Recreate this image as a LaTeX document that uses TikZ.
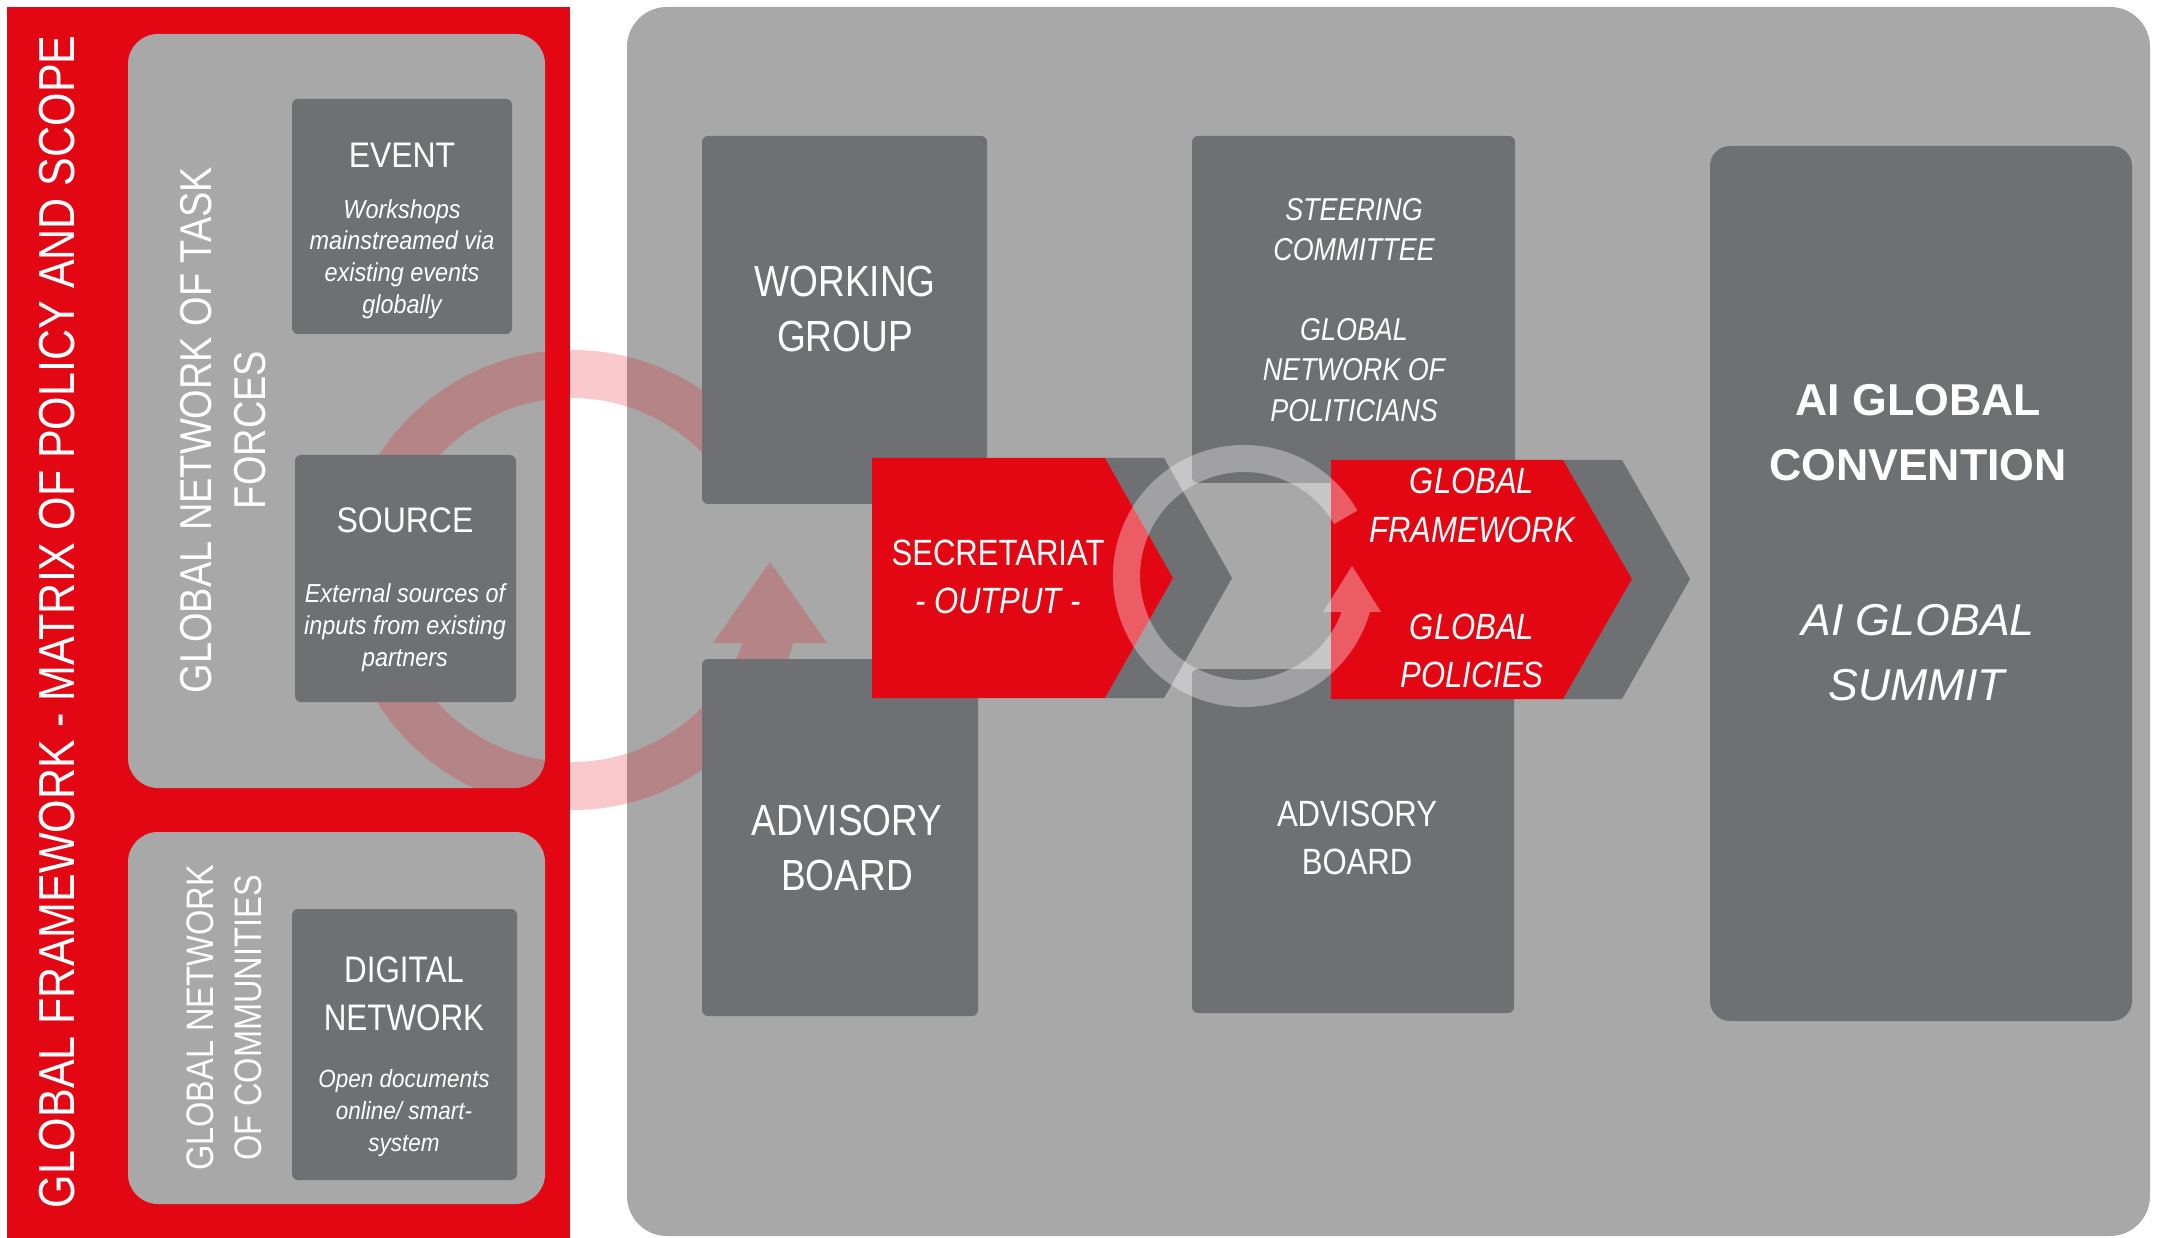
\documentclass[tikz,border=0pt]{standalone}
\usepackage{fontspec}
\setmainfont{Liberation Sans}
\newfontfamily\narrowfont{Liberation Sans}[FakeStretch=0.85]
\newfontfamily\boxfont{Liberation Sans}[FakeStretch=0.9]
\newcommand{\gfsize}[2]{\fontsize{#1}{#2}\selectfont}
\definecolor{gfred}{HTML}{E30613}
\definecolor{panelgray}{HTML}{A8A8A8}
\definecolor{boxgray}{HTML}{6F7074}
\tikzset{
  panel/.style={fill=panelgray, rounded corners=3mm},
  darkbox/.style={fill=boxgray, rounded corners=0.6mm},
  whitetext/.style={text=white, inner sep=0pt, align=center}
}
\begin{document}
\begin{tikzpicture}[x=0.1mm,y=-0.1mm]
        \useasboundingbox (0,0) rectangle (2158,1238);
        \fill[white] (0,0) rectangle (2158,1238);
        \fill[gfred] (7,7) rectangle (570,1238);
        \fill[panel] (128,34) rectangle (545,788);
        \fill[panel] (128,832) rectangle (545,1204);
        \fill[panel, rounded corners=4mm] (627,7) rectangle (2150,1236);

        \fill[gfred, fill opacity=0.22] (771.2,465) arc[start angle=-30, end angle=-344.1, radius=230]
          -- (827,643) -- (770,562) -- (713,643) -- (742.8,643)
          arc[start angle=-339.75, end angle=-30, radius=182] -- cycle;

        \fill[darkbox] (292,99) rectangle (512,334);
        \fill[darkbox] (295,455) rectangle (516,702);
        \fill[darkbox] (292,909) rectangle (517,1180);
        \fill[darkbox] (702,136) rectangle (987,504);
        \fill[darkbox] (702,659) rectangle (978,1016);
        \fill[darkbox] (1192,136) rectangle (1515,483);
        \fill[darkbox] (1192,669) rectangle (1514,1013);
        \fill[darkbox, rounded corners=2mm] (1710,146) rectangle (2132,1021);

        \fill[boxgray] (1105,458) -- (1164,458) -- (1232,578) -- (1164,698) -- (1105,698) -- (1173,578) -- cycle;
        \fill[gfred] (872,458) -- (1105,458) -- (1173,578) -- (1105,698) -- (872,698) -- cycle;
        \fill[boxgray] (1563,460) -- (1622,460) -- (1690,579) -- (1622,699) -- (1563,699) -- (1632,579) -- cycle;
        \fill[gfred] (1331,460) -- (1563,460) -- (1632,579) -- (1563,699) -- (1331,699) -- cycle;

        \fill[white, fill opacity=0.35] (1357.4,510.5) arc[start angle=-30, end angle=-344.05, radius=131]
          -- (1381,612) -- (1352,566) -- (1323,612) -- (1341.6,612)
          arc[start angle=-339.75, end angle=-30, radius=104] -- cycle;

        \node[whitetext, rotate=90, font=\narrowfont\gfsize{14.4}{17}] (title) at (57,622) {GLOBAL FRAMEWORK - MATRIX OF POLICY AND SCOPE};
        \node[whitetext, rotate=90, font=\narrowfont\gfsize{12.7}{15.4}] (taskforces) at (223,430) {GLOBAL NETWORK OF TASK\\FORCES};
        \node[whitetext, rotate=90, font=\narrowfont\gfsize{10.9}{13.7}] (communities) at (224,1018) {GLOBAL NETWORK\\OF COMMUNITIES};
        \node[whitetext, font=\boxfont\gfsize{10.1}{12}] (event) at (402,155) {EVENT};
        \node[whitetext, font=\boxfont\itshape\gfsize{7.4}{9}] (eventtext) at (402,259) {Workshops\\mainstreamed via\\existing events\\globally};
        \node[whitetext, font=\boxfont\gfsize{10.1}{12}] (source) at (405,520) {SOURCE};
        \node[whitetext, font=\boxfont\itshape\gfsize{7.4}{9.1}] (sourcetext) at (405,628) {External sources of\\inputs from existing\\partners};
        \node[whitetext, font=\narrowfont\gfsize{10.5}{13.7}] (digital) at (404,994) {DIGITAL\\NETWORK};
        \node[whitetext, font=\boxfont\itshape\gfsize{7.1}{9.1}] (digitaltext) at (404,1113) {Open documents\\online/ smart-\\system};
        \node[whitetext, font=\narrowfont\gfsize{12.4}{15.9}] (working) at (845,309) {WORKING\\GROUP};
        \node[whitetext, font=\narrowfont\gfsize{12.4}{15.9}] (advisory) at (847,848) {ADVISORY\\BOARD};
        \node[whitetext, font=\narrowfont\itshape\gfsize{9}{11.4}] (steering) at (1354,310) {STEERING\\COMMITTEE\\[11.4pt]GLOBAL\\NETWORK OF\\POLITICIANS};
        \node[whitetext, font=\narrowfont\gfsize{10.4}{13.7}] (advisorytwo) at (1357,838) {ADVISORY\\BOARD};
        \node[whitetext, font=\narrowfont\gfsize{10.4}{13.7}] (secretariat) at (998,577) {SECRETARIAT\\\textit{- OUTPUT -}};
        \node[whitetext, font=\narrowfont\itshape\gfsize{10.4}{13.8}] (framework) at (1472,578) {GLOBAL\\FRAMEWORK\\[13.8pt]GLOBAL\\POLICIES};
        \node[whitetext, font=\gfsize{12.7}{18.5}] (convention) at (1918,543) {\textbf{AI GLOBAL}\\\textbf{CONVENTION}\\[25.6pt]\textit{AI GLOBAL}\\\textit{SUMMIT}};
      \end{tikzpicture}
\end{document}
